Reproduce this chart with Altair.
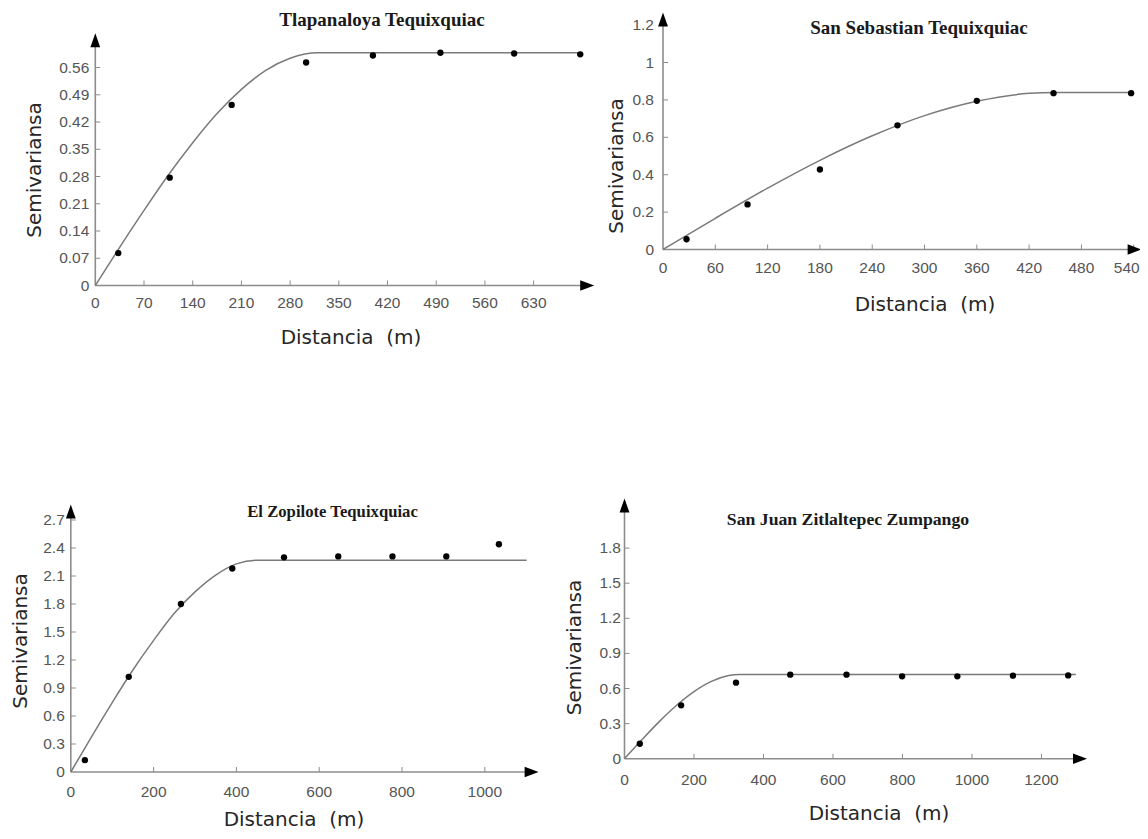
import altair as alt
import pandas as pd

# ---------------- data ----------------
# Panel 1: Tlapanaloya Tequixquiac
p1_title = "Tlapanaloya Tequixquiac"
p1_lag = [33, 107, 196, 303, 399, 496, 602, 697]
p1_gamma = [0.083, 0.277, 0.464, 0.573, 0.591, 0.598, 0.596, 0.594]
p1_model_x = [0, 35, 70, 105, 140, 175, 210, 245, 280, 320, 700]
p1_model_y = [0, 0.098, 0.193, 0.284, 0.367, 0.442, 0.504, 0.553, 0.584, 0.598, 0.598]
p1_xticks = [0, 70, 140, 210, 280, 350, 420, 490, 560, 630]
p1_yticks = [0, 0.07, 0.14, 0.21, 0.28, 0.35, 0.42, 0.49, 0.56]
p1_xmax, p1_ymax = 707, 0.63

# Panel 2: San Sebastian Tequixquiac
p2_title = "San Sebastian Tequixquiac"
p2_lag = [27, 97, 180, 269, 360, 448, 537]
p2_gamma = [0.055, 0.241, 0.428, 0.664, 0.795, 0.836, 0.836]
p2_model_x = [0, 60, 120, 180, 240, 300, 360, 420, 450, 537]
p2_model_y = [0, 0.167, 0.328, 0.477, 0.608, 0.716, 0.793, 0.835, 0.84, 0.84]
p2_xticks = [0, 60, 120, 180, 240, 300, 360, 420, 480, 540]
p2_yticks = [0, 0.2, 0.4, 0.6, 0.8, 1, 1.2]
p2_xmax, p2_ymax = 541, 1.23

# Panel 3: El Zopilote Tequixquiac
p3_title = "El Zopilote Tequixquiac"
p3_lag = [34, 140, 266, 390, 515, 646, 777, 907, 1034]
p3_gamma = [0.127, 1.02, 1.80, 2.18, 2.30, 2.31, 2.31, 2.31, 2.44]
p3_model_x = [0, 50, 100, 150, 200, 250, 300, 350, 400, 450, 1101]
p3_model_y = [0, 0.377, 0.744, 1.093, 1.41, 1.70, 1.93, 2.11, 2.23, 2.27, 2.27]
p3_xticks = [0, 200, 400, 600, 800, 1000]
p3_yticks = [0, 0.3, 0.6, 0.9, 1.2, 1.5, 1.8, 2.1, 2.4, 2.7]
p3_xmax, p3_ymax = 1113, 2.79

# Panel 4: San Juan Zitlaltepec Zumpango
p4_title = "San Juan Zitlaltepec Zumpango"
p4_lag = [44, 163, 321, 477, 639, 799, 958, 1118, 1277]
p4_gamma = [0.128, 0.456, 0.65, 0.718, 0.718, 0.704, 0.704, 0.71, 0.712]
p4_model_x = [0, 50, 100, 150, 200, 250, 300, 330, 1299]
p4_model_y = [0, 0.162, 0.317, 0.457, 0.574, 0.661, 0.711, 0.72, 0.72]
p4_xticks = [0, 200, 400, 600, 800, 1000, 1200]
p4_yticks = [0, 0.3, 0.6, 0.9, 1.2, 1.5, 1.8]
p4_xmax, p4_ymax = 1311, 2.165

X_TITLE = "Distancia\u00a0 (m)"
Y_TITLE = "Semivariansa"

LABEL_FONT = "Liberation Sans Narrow, Arial Narrow, Liberation Sans, Arial, sans-serif"
AXIS_TITLE_FONT = "DejaVu Sans"
TITLE_FONT = "Liberation Serif"
AXIS_GREY = "#8c8c8c"
LABEL_GREY = "#555555"

CANVAS_W, CANVAS_H = 1132, 823


def panel(title, lag, gamma, mx, my, xticks, yticks, xmax, ymax,
          xrange, yrange, tsize, tpos, ytpos, xtpos, xlab_dy, ylab_dx,
          flush_last=False):
    xs = alt.Scale(domain=[0, xmax], range=xrange, nice=False, zero=False)
    ys = alt.Scale(domain=[0, ymax], range=yrange, nice=False, zero=False)

    def X(f):
        return alt.X(f"{f}:Q", scale=xs, axis=None)

    def Y(f):
        return alt.Y(f"{f}:Q", scale=ys, axis=None)

    pts = pd.DataFrame({"x": lag, "y": gamma})
    model = pd.DataFrame({"x": mx, "y": my})
    axes_df = pd.DataFrame({"x": [0, 0], "x2": [xmax, 0],
                            "y": [0, 0], "y2": [0, ymax]})
    xt_df = pd.DataFrame({"v": xticks, "zero": [0] * len(xticks)})
    yt_df = pd.DataFrame({"v": yticks, "zero": [0] * len(yticks)})
    xt_in = xt_df[xt_df.v != 0]
    yt_in = yt_df[yt_df.v != 0]
    right_arrow = pd.DataFrame({"x": [xmax], "y": [0]})
    up_arrow = pd.DataFrame({"x": [0], "y": [ymax]})
    one = pd.DataFrame({"t": [title], "xt": [X_TITLE], "yt": [Y_TITLE]})

    if flush_last:
        xl_main, xl_last = xt_df.iloc[:-1], xt_df.iloc[-1:]
    else:
        xl_main, xl_last = xt_df, None

    layers = [
        alt.Chart(axes_df).mark_rule(color=AXIS_GREY, strokeWidth=1.6).encode(
            x=X("x"), x2="x2:Q", y=Y("y"), y2="y2:Q"),
        alt.Chart(xt_in).mark_tick(orient="vertical", size=5, thickness=1,
                                   color=AXIS_GREY, yOffset=-2.5, opacity=1).encode(
            x=X("v"), y=Y("zero")),
        alt.Chart(yt_in).mark_tick(orient="horizontal", size=5, thickness=1,
                                   color=AXIS_GREY, xOffset=2.5, opacity=1).encode(
            x=X("zero"), y=Y("v")),
        alt.Chart(model).mark_line(color="#7a7a7a", strokeWidth=1.5,
                                   interpolate="monotone").encode(x=X("x"), y=Y("y")),
        alt.Chart(pts).mark_point(filled=True, color="black", size=40,
                                  opacity=1).encode(x=X("x"), y=Y("y")),
        alt.Chart(right_arrow).mark_point(
            shape="M-1,-0.75L1,0L-1,0.75Z", filled=True, color="black",
            size=196, opacity=1).encode(x=X("x"), y=Y("y")),
        alt.Chart(up_arrow).mark_point(
            shape="M-0.7,1L0,-1L0.7,1Z", filled=True, color="black",
            size=196, opacity=1).encode(x=X("x"), y=Y("y")),
        alt.Chart(xl_main).mark_text(font=LABEL_FONT, fontSize=15.5, color=LABEL_GREY,
                                     align="center", baseline="middle",
                                     dy=xlab_dy).encode(
            x=X("v"), y=Y("zero"), text=alt.Text("v:Q", format=".6~g")),
        alt.Chart(yt_df).mark_text(font=LABEL_FONT, fontSize=15.5, color=LABEL_GREY,
                                   align="right", baseline="middle",
                                   dx=-ylab_dx).encode(
            x=X("zero"), y=Y("v"), text=alt.Text("v:Q", format=".6~g")),
        alt.Chart(one).mark_text(font=TITLE_FONT, fontWeight="bold", fontSize=tsize,
                                 color="#1a1a1a", align="center",
                                 baseline="middle").encode(
            x=alt.value(tpos[0]), y=alt.value(tpos[1]), text="t:N"),
        alt.Chart(one).mark_text(font=AXIS_TITLE_FONT, fontSize=20, color="#262626",
                                 align="center", baseline="middle").encode(
            x=alt.value(xtpos[0]), y=alt.value(xtpos[1]), text="xt:N"),
        alt.Chart(one).mark_text(font=AXIS_TITLE_FONT, fontSize=20, color="#262626",
                                 align="center", baseline="middle", angle=270).encode(
            x=alt.value(ytpos[0]), y=alt.value(ytpos[1]), text="yt:N"),
    ]
    if xl_last is not None:
        layers.append(
            alt.Chart(xl_last).mark_text(font=LABEL_FONT, fontSize=15.5,
                                         color=LABEL_GREY, align="right",
                                         baseline="middle", dy=xlab_dy, dx=6).encode(
                x=X("v"), y=Y("zero"), text=alt.Text("v:Q", format=".6~g")))
    return layers


layers = []
layers += panel(p1_title, p1_lag, p1_gamma, p1_model_x, p1_model_y, p1_xticks,
                p1_yticks, p1_xmax, p1_ymax,
                xrange=[87.3, 579.2], yrange=[277.5, 32.3],
                tsize=19, tpos=(374, 12.4), ytpos=(27, 162), xtpos=(343, 330),
                xlab_dy=17.3, ylab_dx=6)
layers += panel(p2_title, p2_lag, p2_gamma, p2_model_x, p2_model_y, p2_xticks,
                p2_yticks, p2_xmax, p2_ymax,
                xrange=[655, 1126.6], yrange=[241.5, 11.5],
                tsize=19, tpos=(911, 19.8), ytpos=(609, 158), xtpos=(917, 297),
                xlab_dy=18, ylab_dx=9, flush_last=True)
layers += panel(p3_title, p3_lag, p3_gamma, p3_model_x, p3_model_y, p3_xticks,
                p3_yticks, p3_xmax, p3_ymax,
                xrange=[62.8, 523.6], yrange=[764, 503.6],
                tsize=16.7, tpos=(324.5, 503.6), ytpos=(12.5, 633), xtpos=(286, 812),
                xlab_dy=19.7, ylab_dx=6)
layers += panel(p4_title, p4_lag, p4_gamma, p4_model_x, p4_model_y, p4_xticks,
                p4_yticks, p4_xmax, p4_ymax,
                xrange=[616.5, 1072], yrange=[750.7, 497.4],
                tsize=17.7, tpos=(840, 511.6), ytpos=(567, 639.5), xtpos=(871, 806),
                xlab_dy=21.3, ylab_dx=3.5)

chart = alt.layer(*layers).resolve_scale(
    x="independent", y="independent"
).properties(
    width=CANVAS_W, height=CANVAS_H, padding=0,
    autosize=alt.AutoSizeParams(type="none"),
    background="white",
).configure_view(stroke=None)

chart.save("out.html", embed_options={"renderer": "svg", "actions": False})
